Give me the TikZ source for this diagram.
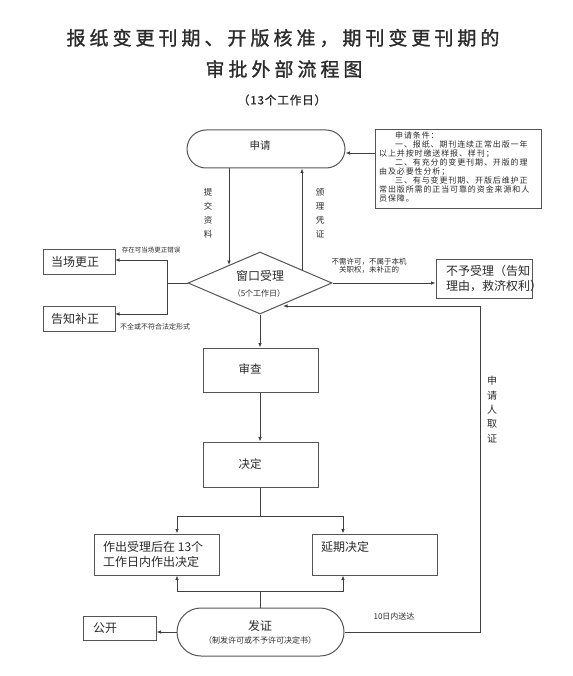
\documentclass[tikz,border=0pt]{standalone}
\usepackage{fontspec}
\setmainfont{Liberation Sans}
\newfontfamily\cjk{Noto Sans CJK SC}
\newfontfamily\cjktitle[LetterSpace=21,FakeBold=1.2]{Noto Sans CJK SC}
\newfontfamily\cjksub[LetterSpace=8,FakeBold=1]{Noto Sans CJK SC}
\newfontfamily\cjkcond[LetterSpace=11]{Noto Sans CJK SC}
\usetikzlibrary{arrows.meta,shapes.geometric}
\definecolor{linec}{HTML}{404040}
\definecolor{boxc}{HTML}{555555}
\definecolor{txtc}{HTML}{2B2B2B}
\newcommand{\fsz}[2]{\fontsize{#1}{#2}\selectfont}
\begin{document}
\begin{tikzpicture}[x=1pt,y=-1pt,
  line/.style={draw=linec,line width=0.8pt},
  arr/.style={line,-{Latex[length=4.5pt,width=3.6pt]}},
  box/.style={draw=boxc,line width=1pt,rectangle,inner sep=0pt},
  stad/.style={box},
  txt/.style={text=txtc,inner sep=0pt,font=\cjk},
  lbl/.style={txt,align=center}]
\useasboundingbox[fill=white] (0,0) rectangle (572,676);
% titles
\node[txt,font=\cjktitle\fsz{19}{19}] (t1) at (283,38) {报纸变更刊期、开版核准，期刊变更刊期的};
\node[txt,font=\cjktitle\fsz{19}{19}] (t2) at (284,69) {审批外部流程图};
\node[txt,font=\cjksub\fsz{11.5}{11.5}] (t3) at (282,100) {（13个工作日）};
% apply
\node[stad,minimum width=158pt,minimum height=38pt,rounded corners=19pt] (apply) at (266,149) {};
\node[txt,font=\cjk\fsz{10.5}{10.5}] (applyt) at (260,146) {申请};
% conditions
\node[box,minimum width=166pt,minimum height=78pt] (cond) at (458,169) {};
\node[txt,anchor=north west,align=left,font=\cjkcond\fsz{8}{8.9}] (condt) at (379,132) {%
\hspace*{2em}申请条件：\\
\hspace*{2em}一、报纸、期刊连续正常出版一年\\
以上并按时缴送样报、样刊；\\
\hspace*{2em}二、有充分的变更刊期、开版的理\\
由及必要性分析；\\
\hspace*{2em}三、有与变更刊期、开版后维护正\\
常出版所需的正当可靠的资金来源和人\\
员保障。};
\coordinate (c153) at (0,153);
\draw[arr] (cond.west |- c153) -- (apply.east |- c153);
% window diamond
\node[diamond,draw=boxc,line width=1pt,inner sep=0pt,minimum width=144pt,minimum height=62pt] (win) at (260,283) {};
\node[txt,font=\cjk\fsz{12}{12}] (wint) at (260,276) {窗口受理};
\node[txt,font=\cjk\fsz{8}{8}] (wint2) at (259,293) {（5个工作日）};
% apply <-> window
\coordinate (ls) at (229,265);
\coordinate (rs) at (302,270);
\draw[arr] (apply.south -| ls) -- (ls);
\draw[arr] (rs) -- (apply.south -| rs);
\node[lbl,font=\cjk\fsz{8.5}{14}] (lt) at (208,213) {提\\交\\资\\料};
\node[lbl,font=\cjk\fsz{8.5}{14}] (rt) at (320,213) {颁\\理\\凭\\证};
% left branch
\node[box,minimum width=72pt,minimum height=25pt] (b1) at (79,261.5) {};
\node[txt,font=\cjk\fsz{12}{12}] (b1t) at (75,262) {当场更正};
\node[box,minimum width=72pt,minimum height=25pt] (b2) at (79,318.5) {};
\node[txt,font=\cjk\fsz{12}{12}] (b2t) at (75,319) {告知补正};
\coordinate (jl) at (167,283);
\coordinate (a1) at (115,260);
\coordinate (a2) at (115,314);
\draw[line] (win.west) -- (jl);
\draw[arr] (jl) |- (a1);
\draw[arr] (jl) |- (a2);
\node[txt,font=\cjk\fsz{6.5}{6.5}] (l1) at (151,250) {存在可当场更正错误};
\node[txt,font=\cjk\fsz{7}{7}] (l2) at (155,327) {不全或不符合法定形式};
% right branch
\node[box,minimum width=96pt,minimum height=39pt] (rej) at (484,278.5) {};
\node[txt,anchor=west,align=left,font=\cjk\fsz{12}{15}] (rejt) at (446,278.5) {不予受理（告知\\理由，救济权利）};
\draw[arr] (win.east) -- (rej.west |- win.east);
\node[txt,align=center,font=\cjk\fsz{7.5}{8.5}] (l3) at (369,266) {不需许可，不属于本机\\关职权，未补正的};
% review and decide
\node[box,minimum width=115pt,minimum height=44pt] (rev) at (260.5,370) {};
\node[txt,font=\cjk\fsz{11.5}{11.5}] (revt) at (250,369) {审查};
\node[box,minimum width=115pt,minimum height=45pt] (dec) at (260.5,464.5) {};
\node[txt,font=\cjk\fsz{11.5}{11.5}] (dect) at (250,464) {决定};
\draw[arr] (win.south) -- (rev.north -| win.south);
\draw[arr] (rev.south -| win.south) -- (dec.north -| win.south);
% outcome boxes
\node[box,minimum width=125pt,minimum height=41pt] (lb) at (156.5,554.5) {};
\node[txt,anchor=west,align=left,font=\cjk\fsz{12}{15}] (lbt) at (103,554.5) {作出受理后在 13个\\工作日内作出决定};
\node[box,minimum width=125pt,minimum height=41pt] (rb) at (374.5,554.5) {};
\node[txt,anchor=west,font=\cjk\fsz{12}{12}] (rbt) at (321,547) {延期决定};
\coordinate (bl) at (177,516);
\coordinate (br) at (343,516);
\draw[arr] (win.south |- dec.south) |- (bl) -- (bl |- lb.north);
\draw[arr] (win.south |- bl) -- (br) -- (br |- rb.north);
% issue
\node[stad,minimum width=167pt,minimum height=48pt,rounded corners=24pt] (iss) at (260.5,632) {};
\node[txt,font=\cjk\fsz{12}{12}] (isst) at (260,626) {发证};
\node[txt,font=\cjk\fsz{8}{8}] (isst2) at (260,640) {（制发许可或不予许可决定书）};
\coordinate (tl) at (177,591);
\coordinate (tr) at (343,591);
\draw[arr] (iss.north) |- (tl) -- (tl |- lb.south);
\draw[arr] (iss.north |- tl) -- (tr) -- (tr |- rb.south);
% publish
\node[box,minimum width=73pt,minimum height=24pt] (pub) at (119.5,628) {};
\node[txt,anchor=west,font=\cjk\fsz{12}{12}] (pubt) at (93,628) {公开};
\draw[arr] (iss.west) -- (pub.east |- iss.west);
% return loop
\coordinate (rl) at (480,306);
\coordinate (de) at (283,306);
\draw[arr] (iss.east) -| (rl) -- (de);
\node[txt,font=\cjk\fsz{8}{8}] (l4) at (394,616) {10日内送达};
\node[lbl,font=\cjk\fsz{10}{14.3}] (l5) at (492,409.5) {申\\请\\人\\取\\证};
\end{tikzpicture}
\end{document}
